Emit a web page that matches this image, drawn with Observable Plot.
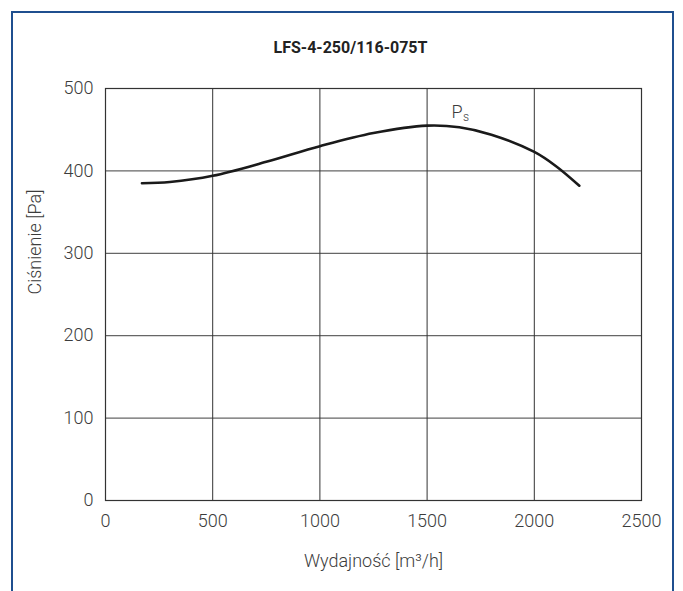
<!DOCTYPE html>
<html>
<head>
<meta charset="utf-8">
<script src="https://cdn.jsdelivr.net/npm/d3@7"></script>
<script src="https://cdn.jsdelivr.net/npm/@observablehq/plot@0.6"></script>
<style>
  html, body { margin: 0; padding: 0; background: #fff; }
  #wrap { position: relative; width: 683px; height: 591px; overflow: hidden; }
  #border { position: absolute; left: 11px; top: 11px; width: 663px; height: 640px; border: 2px solid #1f4f8f; box-sizing: border-box; pointer-events: none; }
  svg { display: block; }
</style>
</head>
<body>
<div id="wrap"><div id="border"></div></div>
<script>
const title = "LFS-4-250/116-075T";
const xLabel = "Wydajność [m³/h]";
const yLabel = "Ciśnienie [Pa]";
const xTicks = [0, 500, 1000, 1500, 2000, 2500];
const yTicks = [0, 100, 200, 300, 400, 500];
const flow = [170, 300, 500, 750, 1000, 1250, 1500, 1650, 1800, 2000, 2100, 2210];
const pressure = [385, 386.5, 394, 411, 430, 446, 455, 453, 444, 423, 406, 382];
const curve = flow.map((x, i) => ({x, y: pressure[i]}));

const font = "Roboto, 'DejaVu Sans', sans-serif";
const fmt = d => String(d);
const ink = "#3c3c3c";
const chart = Plot.plot({
  width: 683,
  height: 591,
  marginLeft: 105,
  marginRight: 42,
  marginTop: 88,
  marginBottom: 91,
  style: {fontFamily: font, fontSize: "18px", color: ink, background: "transparent"},
  x: {domain: [0, 2500], label: null},
  y: {domain: [0, 500], label: null},
  marks: [
    Plot.ruleY(yTicks.slice(1, -1), {stroke: "#666", strokeWidth: 1.2}),
    Plot.ruleX(xTicks.slice(1, -1), {stroke: "#333", strokeWidth: 1}),
    Plot.frame({stroke: "#333", strokeWidth: 1.2}),
    Plot.axisX({ticks: xTicks, tickFormat: fmt, tickSize: 0, tickPadding: 14, fontSize: 18, fontWeight: 300, fill: ink, label: null}),
    Plot.axisY({ticks: yTicks, tickFormat: fmt, tickSize: 0, tickPadding: 12, fontSize: 18, fontWeight: 300, fill: ink, label: null}),
    Plot.line(curve, {x: "x", y: "y", curve: "catmull-rom", stroke: "#1a1a1a", strokeWidth: 2.6}),
    Plot.text(["P"], {x: 1640, y: 471, fontSize: 18, fontWeight: 300, fill: ink}),
    Plot.text(["s"], {x: 1640, y: 471, dx: 9, dy: 5, fontSize: 12, fontWeight: 300, fill: ink}),
    Plot.text([title], {frameAnchor: "top", dx: -23, dy: -47, fontSize: 16, fontWeight: 700, fill: "#222"}),
    Plot.text([xLabel], {frameAnchor: "bottom", dy: 66, fontSize: 18, fontWeight: 300, fill: ink}),
    Plot.text([yLabel], {frameAnchor: "left", dx: -70, rotate: -90, fontSize: 18, fontWeight: 300, fill: ink})
  ]
});
document.getElementById("wrap").prepend(chart);
</script>
</body>
</html>
